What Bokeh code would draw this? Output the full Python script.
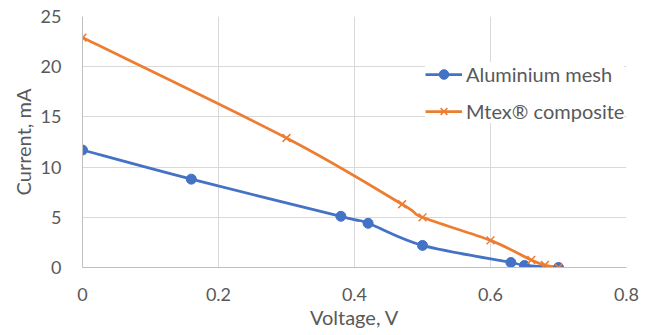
from bokeh.plotting import figure
from bokeh.models import Range1d, Legend, LegendItem, ColumnDataSource, FixedTicker
from bokeh.embed import file_html
from bokeh.resources import INLINE

# Data
alu_v = [0.0, 0.16, 0.38, 0.42, 0.50, 0.63, 0.65, 0.70]
alu_i = [11.7, 8.8, 5.1, 4.4, 2.2, 0.5, 0.2, 0.0]
mtex_v = [0.0, 0.30, 0.47, 0.50, 0.60, 0.66, 0.68, 0.70]
mtex_i = [22.9, 12.9, 6.3, 5.0, 2.7, 0.75, 0.25, 0.0]
x_ticks = [0, 0.2, 0.4, 0.6, 0.8]
y_ticks = [0, 5, 10, 15, 20, 25]
x_title = "Voltage, V"
y_title = "Current, mA"
series_names = ["Aluminium mesh", "Mtex® composite"]

BLUE = "#4472C4"
ORANGE = "#ED7D31"
TXT = "#595959"
FONT = "Lato"


def smooth_segments(xs, ys):
    n = len(xs)
    d = dict(x0=[], y0=[], x1=[], y1=[], cx0=[], cy0=[], cx1=[], cy1=[])
    for i in range(n - 1):
        xp, yp = (xs[i - 1], ys[i - 1]) if i > 0 else (xs[i], ys[i])
        xn, yn = (xs[i + 2], ys[i + 2]) if i + 2 < n else (xs[i + 1], ys[i + 1])
        d["x0"].append(xs[i]); d["y0"].append(ys[i])
        d["x1"].append(xs[i + 1]); d["y1"].append(ys[i + 1])
        d["cx0"].append(xs[i] + (xs[i + 1] - xp) / 6)
        d["cy0"].append(ys[i] + (ys[i + 1] - yp) / 6)
        d["cx1"].append(xs[i + 1] - (xn - xs[i]) / 6)
        d["cy1"].append(ys[i + 1] - (yn - ys[i]) / 6)
    return ColumnDataSource(d)


p = figure(frame_width=544, frame_height=251, output_backend="svg", toolbar_location=None,
           x_range=Range1d(x_ticks[0], x_ticks[-1]), y_range=Range1d(y_ticks[0], y_ticks[-1]))
p.min_border_left = 82
p.min_border_right = 26
p.min_border_top = 16
p.min_border_bottom = 68
p.outline_line_color = None
p.background_fill_color = "white"
p.border_fill_color = "white"

p.xaxis.ticker = FixedTicker(ticks=x_ticks)
p.yaxis.ticker = FixedTicker(ticks=y_ticks)
p.xaxis.major_label_overrides = {t: ("0" if t == 0 else str(t)) for t in x_ticks}

for ax in (p.xaxis[0], p.yaxis[0]):
    ax.axis_line_color = "#BFBFBF"
    ax.axis_line_width = 1
    ax.major_tick_line_color = None
    ax.minor_tick_line_color = None
    ax.major_tick_out = 0
    ax.major_tick_in = 0
    ax.minor_tick_out = 0
    ax.minor_tick_in = 0
    ax.major_label_text_font = FONT
    ax.major_label_text_font_size = "18px"
    ax.major_label_text_color = TXT
    ax.axis_label_text_font = FONT
    ax.axis_label_text_font_size = "20px"
    ax.axis_label_text_color = TXT
    ax.axis_label_text_font_style = "normal"

p.xaxis.axis_label = x_title
p.yaxis.axis_label = y_title
p.xaxis.major_label_standoff = 20
p.xaxis.axis_label_standoff = 1
p.yaxis.major_label_standoff = 21
p.yaxis.axis_label_standoff = 3

p.xgrid.grid_line_color = "#D9D9D9"
p.ygrid.grid_line_color = "#D9D9D9"

# Smoothed lines
p.bezier(x0="x0", y0="y0", x1="x1", y1="y1", cx0="cx0", cy0="cy0", cx1="cx1", cy1="cy1",
         source=smooth_segments(alu_v, alu_i), line_color=BLUE, line_width=2.75)
p.bezier(x0="x0", y0="y0", x1="x1", y1="y1", cx0="cx0", cy0="cy0", cx1="cx1", cy1="cy1",
         source=smooth_segments(mtex_v, mtex_i), line_color=ORANGE, line_width=2.75)

alu_pts = p.scatter(alu_v, alu_i, marker="circle", size=10, fill_color=BLUE, line_color=BLUE)
mtex_pts = p.scatter(mtex_v, mtex_i, marker="x", size=11, line_color=ORANGE, line_width=1.5)

# legend line glyphs (single point: nothing drawn on the plot)
alu_leg = p.line(x=alu_v[-1:], y=alu_i[-1:], line_color=BLUE, line_width=2.75)
mtex_leg = p.line(x=mtex_v[-1:], y=mtex_i[-1:], line_color=ORANGE, line_width=2.75)

legend = Legend(items=[
    LegendItem(label=series_names[0], renderers=[alu_leg, alu_pts]),
    LegendItem(label=series_names[1], renderers=[mtex_leg, mtex_pts]),
], location=(343, 144))
legend.border_line_color = None
legend.background_fill_color = "white"
legend.background_fill_alpha = 1
legend.padding = 2
legend.spacing = 13
legend.glyph_width = 37
legend.glyph_height = 24
legend.label_height = 24
legend.label_standoff = 4
legend.label_text_font = FONT
legend.label_text_font_size = "20px"
legend.label_text_color = TXT
legend.margin = 0
p.add_layout(legend)

open("out.html", "w").write(file_html(p, INLINE))
